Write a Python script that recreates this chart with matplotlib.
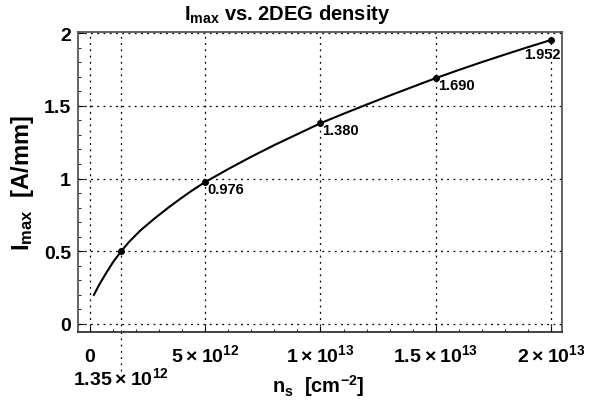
import numpy as np
import matplotlib
matplotlib.use('Agg')
import matplotlib.pyplot as plt
from matplotlib.ticker import MultipleLocator

plt.rcParams['font.family'] = ['Liberation Sans', 'DejaVu Sans']
plt.rcParams['font.weight'] = 'bold'
plt.rcParams['mathtext.fontset'] = 'custom'
plt.rcParams['mathtext.rm'] = 'Liberation Sans:bold'
plt.rcParams['mathtext.it'] = 'Liberation Sans:bold'
plt.rcParams['mathtext.bf'] = 'Liberation Sans:bold'

# curve (x in 1e12 cm^-2, I in A/mm)
ns_curve = [0.17, 0.4, 0.7, 1.0, 1.35, 1.7, 2.2, 2.8, 3.4, 4.0, 4.5, 5.0,
            6.0, 7.0, 8.0, 9.0, 10.0, 11.0, 12.0, 13.0, 14.0, 15.0,
            16.0, 17.0, 18.0, 19.0, 20.0]
imax_curve = [0.20, 0.27, 0.35, 0.425, 0.50, 0.565, 0.645, 0.725, 0.80, 0.87, 0.925, 0.976,
              1.065, 1.15, 1.23, 1.305, 1.38, 1.445, 1.508, 1.57, 1.63, 1.69,
              1.746, 1.80, 1.852, 1.903, 1.952]

# marked points
ns_pts = [1.35, 5.0, 10.0, 15.0, 20.0]
imax_pts = [0.50, 0.976, 1.380, 1.690, 1.952]
pt_labels = ['', '0.976', '1.380', '1.690', '1.952']

xtick_vals = [0, 5, 10, 15, 20]
xtick_labels = ['0', '5\u2009×\u200910$^{12}$', '1\u2009×\u200910$^{13}$',
                '1.5\u2009×\u200910$^{13}$', '2\u2009×\u200910$^{13}$']
ytick_vals = [0, 0.5, 1, 1.5, 2]
ytick_labels = ['0', '0.5', '1', '1.5', '2']
xgrid_vals = [0, 1.35, 5, 10, 15, 20]

fig = plt.figure(figsize=(5.89, 4.02), dpi=100)
ax = fig.add_axes([78 / 589, 1 - 333 / 402, (562 - 78) / 589, (333 - 33) / 402])

ax.set_xlim(-0.52, 20.477)
ax.set_ylim(-0.055, 2.007)

dots = (0, (1.5, 3.5))
for xv in xgrid_vals:
    ax.axvline(xv, color='black', lw=0.9, ls=dots, zorder=1)
for yv in ytick_vals:
    ax.axhline(yv, color='black', lw=0.9, ls=dots, zorder=1)
# dotted leader from axis down to the 1.35e12 label
ax.axvline(1.35, ymin=-0.13, ymax=0, color='black', lw=0.9, ls=dots, clip_on=False)

ax.plot(ns_curve, imax_curve, color='black', lw=1.5, zorder=3)
ax.plot(ns_pts, imax_pts, 'o', color='black', ms=4, zorder=4)

for x, y, lab in zip(ns_pts, imax_pts, pt_labels):
    if not lab:
        continue
    if x == 20.0:
        ax.annotate(lab, (x, y), xytext=(-9, -7), textcoords='offset pixels',
                    ha='center', va='top', fontsize=10.5, fontweight='bold')
    else:
        ax.annotate(lab, (x, y), xytext=(2, 0), textcoords='offset pixels',
                    ha='left', va='top', fontsize=10.5, fontweight='bold')

ax.set_xticks(xtick_vals)
ax.set_xticklabels(xtick_labels, fontsize=14, fontweight='bold', va='baseline')
ax.set_yticks(ytick_vals)
ax.set_yticklabels(ytick_labels, fontsize=14, fontweight='bold')
ax.xaxis.set_minor_locator(MultipleLocator(1))
ax.yaxis.set_minor_locator(MultipleLocator(0.1))
ax.tick_params(axis='x', which='major', direction='in', length=4, pad=21, top=False)
ax.tick_params(axis='y', which='major', direction='in', length=4, pad=5, right=False)
ax.tick_params(which='minor', direction='in', length=2.5, top=False, right=False)

for s in ax.spines.values():
    s.set_color('#555555')
    s.set_linewidth(1.3)
ax.spines['bottom'].set_color('#333333')

fig.text(121 / 589, 1 - 385 / 402, '1.35\u2009×\u200910$^{12}$', ha='center', va='baseline',
         fontsize=14, fontweight='bold')

fig.text(318 / 589, 1 - 386 / 402, 'n$_\\mathrm{s}$  [cm$^{-2}$]', ha='center', va='center',
         fontsize=14.5, fontweight='bold')
fig.text(22 / 589, 1 - 183 / 402, 'I$_\\mathrm{max}$  [A/mm]', ha='center', va='center',
         rotation=90, fontsize=17, fontweight='bold')
fig.text(287 / 589, 1 - 20 / 402, 'I$_\\mathrm{max}$ vs. 2DEG density', ha='center',
         va='baseline', fontsize=14.5, fontweight='bold')

fig.savefig('out.png', dpi=100)
